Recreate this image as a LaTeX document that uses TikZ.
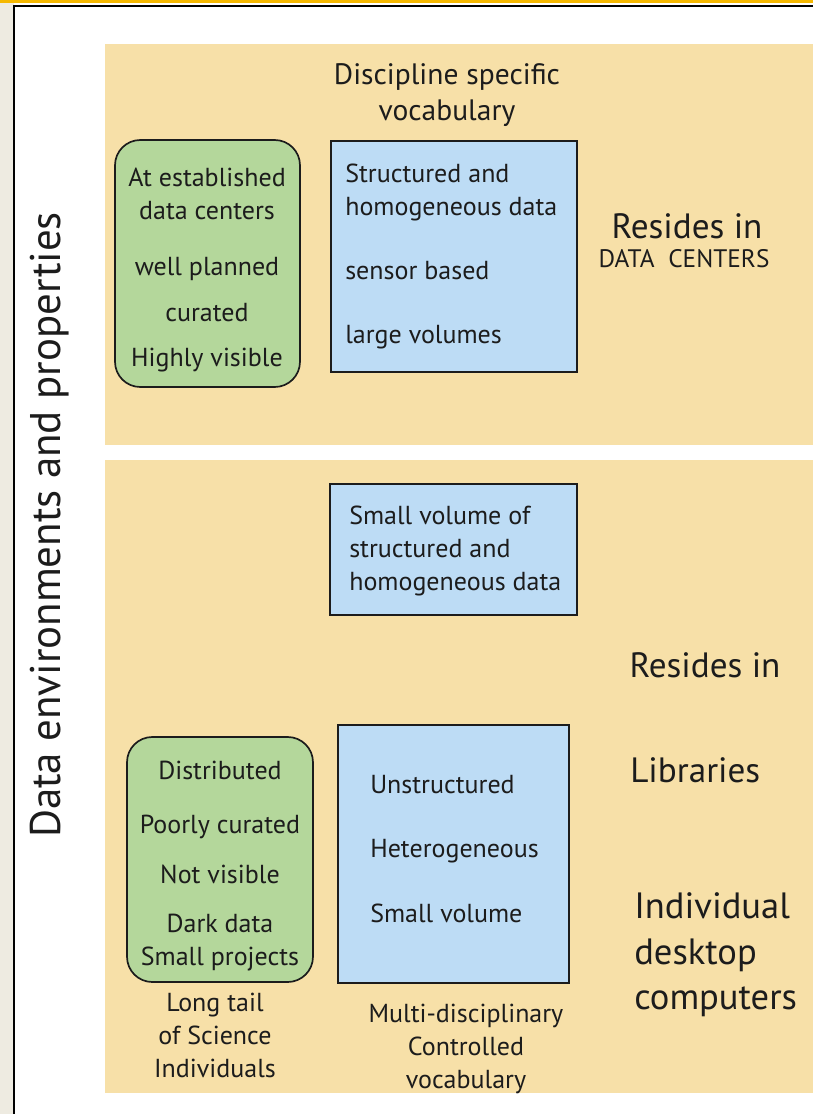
\documentclass[tikz,border=0pt]{standalone}
\usepackage{fontspec}
\setmainfont{PT Sans}
\usetikzlibrary{fit}

\definecolor{panelorange}{HTML}{F7E0A8}
\definecolor{boxgreen}{HTML}{B4D79B}
\definecolor{boxblue}{HTML}{BDDCF5}
\definecolor{sidestrip}{HTML}{EEEBE1}
\definecolor{topband}{HTML}{F5B800}
\definecolor{ink}{HTML}{1C1C1C}

\tikzset{
    panel/.style={fill=panelorange, inner sep=0pt},
    greenbox/.style={draw=ink, line width=1.2pt, fill=boxgreen, rounded corners=18pt, inner sep=0pt},
    bluebox/.style={draw=ink, line width=1.2pt, fill=boxblue, inner sep=0pt},
    body/.style={text=ink, inner sep=0pt, align=center, font=\fontsize{18.5}{23.5}\selectfont},
    big/.style={text=ink, inner sep=0pt, align=left, font=\fontsize{25}{32.4}\selectfont},
}

\begin{document}
\begin{tikzpicture}[x=0.025cm, y=-0.025cm]
    \useasboundingbox (0,0) rectangle (813,1114);
    % page frame
    \fill [sidestrip] (0,0) rectangle (14,1114);
    \fill [white] (14,6) rectangle (813,1114);
    \draw [line width=1.5pt] (14,1114) -- (14,6) -- (813,6);
    \fill [topband] (0,0) rectangle (813,3);

    % the two panels
    \node [panel, fit={(105,44) (813,445)}] (toppanel) {};
    \node [panel, fit={(105,460) (813,1093)}] (lowpanel) {};

    % boxes
    \node [greenbox, fit={(115,140) (300,387)}] (green1) {};
    \node [bluebox, fit={(331,141) (577,372)}] (blue1) {};
    \node [bluebox, fit={(330,484) (577,615)}] (blue2) {};
    \node [greenbox, fit={(127,737) (313,982)}] (green2) {};
    \node [bluebox, fit={(338,725) (569,983)}] (blue3) {};

    % texts
    \path ( 50, 525) node [rotate=90, text=ink, font=\fontsize{30.5}{34}\selectfont] (title) {Data environments and properties};
    \path (447,  95) node [body, font=\fontsize{21}{25}\selectfont] (vocab1) {Discipline specific\\vocabulary};
    \path (207, 270) node [body] (green1text) {At established\\data centers\\[16pt]well planned\\[9.5pt]curated\\[8pt]Highly visible};
    \path (345, 256) node [body, anchor=west, align=left] (blue1text) {Structured and\\homogeneous data\\[22pt]sensor based\\[22pt]large volumes};
    \path (687, 226) node [big] (resides1) {Resides in};
    \path (684, 259) node [text=ink, font=\fontsize{18}{21}\selectfont] (datacenters) {DATA\ \ CENTERS};
    \path (349, 551) node [body, anchor=west, align=left] (blue2text) {Small volume of\\structured and\\homogeneous data};
    \path (705, 665) node [big] (resides2) {Resides in};
    \path (630, 770) node [big, anchor=west] (libraries) {Libraries};
    \path (220, 866) node [body] (green2text) {Distributed\\[15pt]Poorly curated\\[12pt]Not visible\\[11pt]Dark data\\Small projects};
    \path (370, 849) node [body, anchor=west, align=left] (blue3text) {Unstructured\\[22.5pt]Heterogeneous\\[22.5pt]Small volume};
    \path (634, 955) node [big, anchor=west, font=\fontsize{26}{32.4}\selectfont] (desktops) {Individual\\desktop\\computers};
    \path (215,1035) node [body] (longtail) {Long tail\\of Science\\Individuals};
    \path (466,1049) node [body] (vocab2) {Multi-disciplinary\\Controlled\\vocabulary};
\end{tikzpicture}
\end{document}
